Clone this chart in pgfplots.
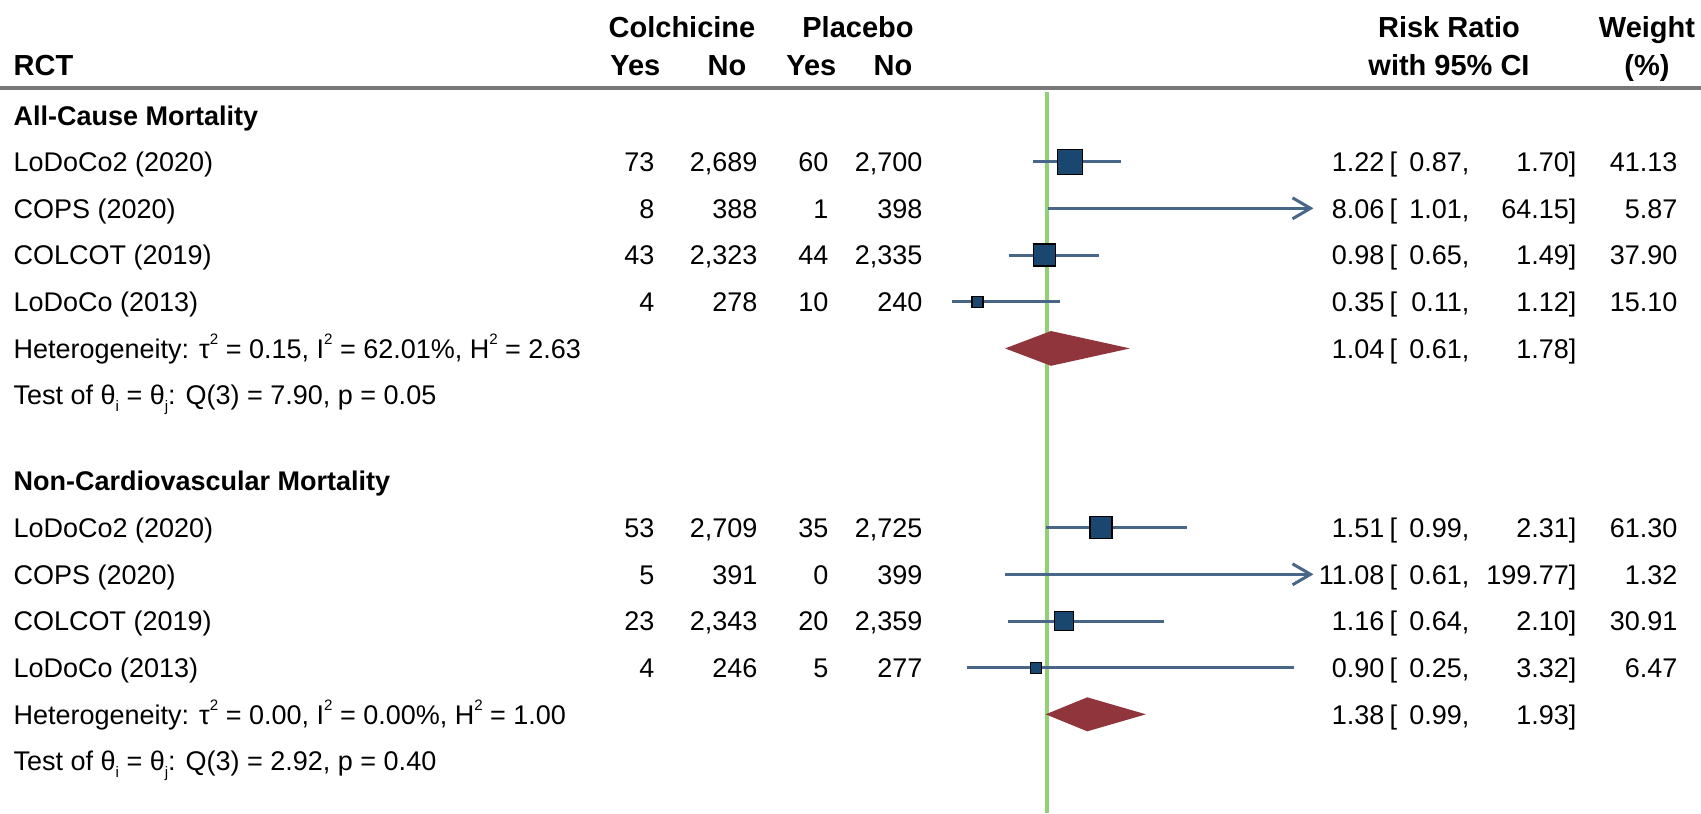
\documentclass[border=0pt]{standalone}
\usepackage{fontspec}
\setmainfont{Liberation Sans}
\usepackage{pgfplots}
\pgfplotsset{compat=1.18}
\usepackage{pgfplotstable}
\usetikzlibrary{arrows.meta}
\definecolor{navy}{RGB}{26,71,111}
\definecolor{cicol}{RGB}{72,102,136}
\definecolor{maroon}{RGB}{144,53,59}
\definecolor{refgreen}{RGB}{146,208,120}
\definecolor{rulegray}{RGB}{120,120,120}

\newcommand\bodyfont{\fontsize{7.68pt}{9pt}\selectfont}
\newcommand\headfont{\fontsize{8.25pt}{9.5pt}\selectfont\bfseries}
\newcommand\supsq{\raisebox{0.95ex}{\fontsize{4.3pt}{4.3pt}\selectfont 2}}
\newcommand\subsc[1]{\raisebox{-0.45ex}{\fontsize{4.3pt}{4.3pt}\selectfont #1}}

% study boxes: x = risk ratio, y = row position, side = box side (px)
\pgfplotstableread{
rr    y      side
1.22  161.7  25
0.98  255.0  22
0.35  301.7  11
1.51  527.7  22
1.16  621.0  19
0.90  667.7  11
}\boxes

\newcommand\study[6]{%
  \node[anchor=base west] at (13,#1+9.7) {#2};
  \node[anchor=base east] at (655,#1+9.7) {#3};
  \node[anchor=base east] at (758,#1+9.7) {#4};
  \node[anchor=base east] at (829,#1+9.7) {#5};
  \node[anchor=base east] at (923,#1+9.7) {#6};
}
\newcommand\rrrow[5]{%
  \node[anchor=base east] at (1385,#1+9.7) {#2};
  \node[anchor=base west] at (1389,#1+9.7) {[};
  \node[anchor=base east] at (1470,#1+9.7) {#3,};
  \node[anchor=base east] at (1577,#1+9.7) {#4]};
  \node[anchor=base east] at (1678,#1+9.7) {#5};
}

\begin{document}
\begin{tikzpicture}[x=0.1mm,y=-0.1mm,every node/.style={inner sep=0pt,font=\bodyfont}]
\path[use as bounding box] (0,0) rectangle (1701,813);

\begin{axis}[at={(0,0)}, anchor=north west, scale only axis,
  width=170.1mm, height=81.3mm,
  xmin=-8.810, xmax=7.132, ymin=0, ymax=813, y dir=reverse,
  hide axis, clip=false]
% reference line at RR = 1
\addplot[refgreen, line width=0.38mm] coordinates {(1,92) (1,813)};
% confidence intervals, All-Cause Mortality
\addplot[cicol, line width=0.3mm] coordinates {(0.87,161.7) (1.70,161.7)};
\addplot[cicol, line width=0.3mm, -{Straight Barb[length=1.8mm,width=2.1mm,line width=0.3mm]}] coordinates {(1.01,208.3) (3.5,208.3)};
\addplot[cicol, line width=0.3mm] coordinates {(0.65,255.0) (1.49,255.0)};
\addplot[cicol, line width=0.3mm] coordinates {(0.11,301.7) (1.12,301.7)};
% confidence intervals, Non-Cardiovascular Mortality
\addplot[cicol, line width=0.3mm] coordinates {(0.99,527.7) (2.31,527.7)};
\addplot[cicol, line width=0.3mm, -{Straight Barb[length=1.8mm,width=2.1mm,line width=0.3mm]}] coordinates {(0.61,574.3) (3.5,574.3)};
\addplot[cicol, line width=0.3mm] coordinates {(0.64,621.0) (2.10,621.0)};
\addplot[cicol, line width=0.3mm] coordinates {(0.25,667.7) (3.32,667.7)};
% weight boxes
\addplot[scatter, only marks, mark=square*,
  scatter/use mapped color={draw=none,fill=navy},
  visualization depends on={\thisrow{side}\as\side},
  scatter/@pre marker code/.append style={/tikz/mark size=0.05mm*\side}]
  table[x=rr,y=y] {\boxes};
% pooled diamonds
\addplot[fill=maroon, draw=none] coordinates {(0.61,348.4) (1.04,331.0) (1.78,348.4) (1.04,365.8)} -- cycle;
\addplot[fill=maroon, draw=none] coordinates {(0.99,714.3) (1.38,697.3) (1.93,714.3) (1.38,731.3)} -- cycle;
\end{axis}

% header
\draw[rulegray, line width=0.38mm] (0,88) -- (1701,88);
\node[anchor=base, font=\headfont] at (682,37) {Colchicine};
\node[anchor=base, font=\headfont] at (858,37) {Placebo};
\node[anchor=base, font=\headfont] at (1449,37) {Risk Ratio};
\node[anchor=base, font=\headfont] at (1647,37) {Weight};
\node[anchor=base west, font=\headfont] at (13,75) {RCT};
\node[anchor=base east, font=\headfont] at (661,75) {Yes};
\node[anchor=base east, font=\headfont] at (747,75) {No};
\node[anchor=base east, font=\headfont] at (837,75) {Yes};
\node[anchor=base east, font=\headfont] at (913,75) {No};
\node[anchor=base, font=\headfont] at (1449,75) {with 95\% CI};
\node[anchor=base, font=\headfont] at (1647,75) {(\%)};

% All-Cause Mortality
\node[anchor=base west, font=\bodyfont\bfseries] at (13,125) {All-Cause Mortality};
\study{161.7}{LoDoCo2 (2020)}{73}{2,689}{60}{2,700}
\study{208.3}{COPS (2020)}{8}{388}{1}{398}
\study{255.0}{COLCOT (2019)}{43}{2,323}{44}{2,335}
\study{301.7}{LoDoCo (2013)}{4}{278}{10}{240}
\rrrow{161.7}{1.22}{0.87}{1.70}{41.13}
\rrrow{208.3}{8.06}{1.01}{64.15}{5.87}
\rrrow{255.0}{0.98}{0.65}{1.49}{37.90}
\rrrow{301.7}{0.35}{0.11}{1.12}{15.10}
\rrrow{348.4}{1.04}{0.61}{1.78}{}
\node[anchor=base west] at (13,358.1) {Heterogeneity: τ\supsq\ = 0.15, I\supsq\ = 62.01\%, H\supsq\ = 2.63};
\node[anchor=base west] at (13,404.7) {Test of θ\subsc{i} = θ\subsc{j}: Q(3) = 7.90, p = 0.05};

% Non-Cardiovascular Mortality
\node[anchor=base west, font=\bodyfont\bfseries] at (13,490.7) {Non-Cardiovascular Mortality};
\study{527.7}{LoDoCo2 (2020)}{53}{2,709}{35}{2,725}
\study{574.3}{COPS (2020)}{5}{391}{0}{399}
\study{621.0}{COLCOT (2019)}{23}{2,343}{20}{2,359}
\study{667.7}{LoDoCo (2013)}{4}{246}{5}{277}
\rrrow{527.7}{1.51}{0.99}{2.31}{61.30}
\rrrow{574.3}{11.08}{0.61}{199.77}{1.32}
\rrrow{621.0}{1.16}{0.64}{2.10}{30.91}
\rrrow{667.7}{0.90}{0.25}{3.32}{6.47}
\rrrow{714.3}{1.38}{0.99}{1.93}{}
\node[anchor=base west] at (13,724.0) {Heterogeneity: τ\supsq\ = 0.00, I\supsq\ = 0.00\%, H\supsq\ = 1.00};
\node[anchor=base west] at (13,770.7) {Test of θ\subsc{i} = θ\subsc{j}: Q(3) = 2.92, p = 0.40};
\end{tikzpicture}
\end{document}
